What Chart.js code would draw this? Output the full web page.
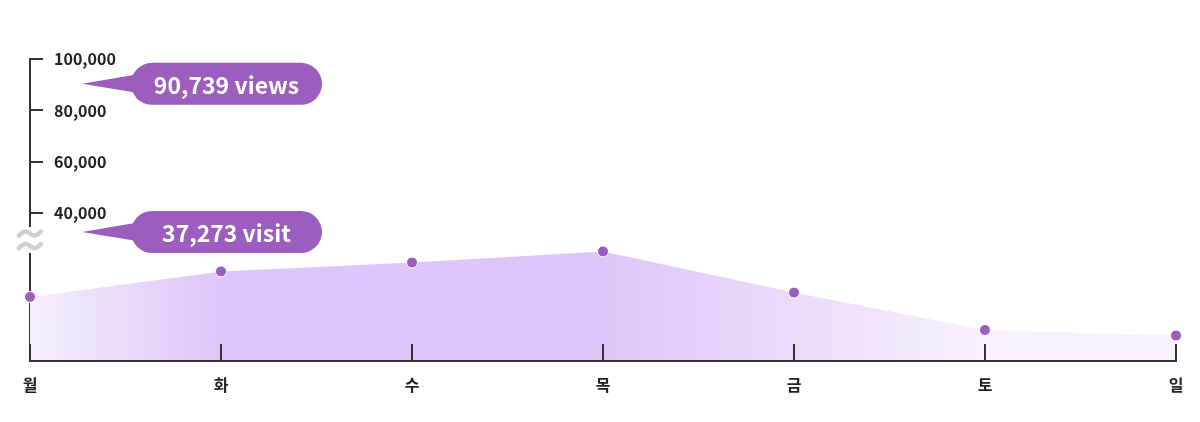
<!DOCTYPE html>
<html>
<head>
<meta charset="utf-8">
<script src="https://cdn.jsdelivr.net/npm/chart.js@4.4.1/dist/chart.umd.min.js"></script>
<style>
  html, body { margin: 0; padding: 0; background: #fff; }
  #wrap { width: 1200px; height: 422px; position: relative; }
</style>
</head>
<body>
<div id="wrap"><canvas id="c"></canvas></div>
<script>
// ---- data ----
const days = ['월', '화', '수', '목', '금', '토', '일'];
const visits = [5250, 7340, 8070, 8980, 5610, 2540, 2090];
const upperTicks = [40000, 60000, 80000, 100000];
const viewsTotal = 90739;
const visitTotal = 37273;

const FONT = "'Noto Sans CJK KR', 'Noto Sans', sans-serif";
const PURPLE = '#9b5dbe';
const AXIS = '#333333';

function fillGradient(context) {
  const chart = context.chart;
  const area = chart.chartArea;
  if (!area) return '#dfc6fa';
  const g = chart.ctx.createLinearGradient(area.left, 0, area.right, 0);
  g.addColorStop(0, '#f4eefd');
  g.addColorStop(1 / 6, '#dfc6fa');
  g.addColorStop(3 / 6, '#dfc6fa');
  g.addColorStop(5 / 6, '#f6f1fc');
  g.addColorStop(1, '#f6f1fc');
  return g;
}

function bubble(ctx, tipX, y, rectX, rectW, text) {
  const h = 42, r = 21;
  ctx.save();
  ctx.fillStyle = PURPLE;
  ctx.beginPath();
  ctx.moveTo(tipX, y);
  ctx.lineTo(rectX + 10, y - 10);
  ctx.lineTo(rectX + 12, y + 10);
  ctx.closePath();
  ctx.fill();
  ctx.beginPath();
  ctx.roundRect(rectX, y - h / 2, rectW, h, r);
  ctx.fill();
  ctx.fillStyle = '#ffffff';
  ctx.font = "bold 23px " + FONT;
  ctx.textAlign = 'center';
  ctx.textBaseline = 'middle';
  ctx.fillText(text, rectX + rectW / 2, y + 1);
  ctx.restore();
}

const overlay = {
  id: 'overlay',
  afterDraw(chart) {
    const ctx = chart.ctx;
    const top = chart.scales.yTop;
    const left = chart.chartArea.left;
    // axis break mark
    const by = top.bottom;
    ctx.save();
    ctx.fillStyle = '#ffffff';
    ctx.fillRect(left - 13, by - 12, 26, 26);
    ctx.strokeStyle = '#d0d0d0';
    ctx.lineWidth = 4.5;
    ctx.lineCap = 'round';
    [by - 5.5, by + 7].forEach(c => {
      ctx.beginPath();
      ctx.moveTo(left - 11, c + 2);
      ctx.quadraticCurveTo(left - 5, c - 5, left, c);
      ctx.quadraticCurveTo(left + 5, c + 5, left + 11, c - 2);
      ctx.stroke();
    });
    ctx.restore();
    // callouts
    const vy = top.getPixelForValue(viewsTotal);
    bubble(ctx, left + 52, vy + 1, left + 101, 191, viewsTotal.toLocaleString('en-US') + ' views');
    bubble(ctx, left + 52, by - 7, left + 101, 191, visitTotal.toLocaleString('en-US') + ' visit');
  }
};

new Chart(document.getElementById('c'), {
  type: 'line',
  data: {
    labels: days,
    datasets: [{
      data: visits,
      yAxisID: 'y',
      fill: 'origin',
      backgroundColor: fillGradient,
      borderWidth: 0,
      borderColor: 'rgba(0,0,0,0)',
      tension: 0,
      clip: false,
      pointRadius: 5.5,
      pointHoverRadius: 5.5,
      pointBackgroundColor: PURPLE,
      pointBorderColor: '#ffffff',
      pointBorderWidth: 1
    }]
  },
  options: {
    responsive: true,
    maintainAspectRatio: false,
    animation: false,
    events: [],
    layout: { padding: { left: 30, right: 24, top: 59, bottom: 0 } },
    plugins: { legend: { display: false }, tooltip: { enabled: false } },
    scales: {
      x: {
        type: 'category',
        offset: false,
        border: { display: true, color: AXIS, width: 2, z: 1 },
        grid: { drawOnChartArea: false, drawTicks: true, tickLength: -17, color: AXIS, lineWidth: 2, z: 1 },
        ticks: {
          padding: 31,
          color: '#222222',
          font: { family: FONT, size: 16, weight: 'bold' },
          maxRotation: 0,
          autoSkip: false
        },
        afterFit(scale) {
          scale.paddingLeft = 0;
          scale.paddingRight = 0;
          scale.height = 61;
        }
      },
      y: {
        type: 'linear',
        position: 'left',
        stack: 'yy',
        stackWeight: 122,
        min: 0,
        max: 10000,
        border: { display: true, color: AXIS, width: 2 },
        grid: { display: true, drawOnChartArea: false, drawTicks: false },
        ticks: { display: false },
        afterFit(scale) { scale.width = 0; scale.paddingTop = 0; scale.paddingBottom = 0; }
      },
      yTop: {
        type: 'linear',
        position: 'left',
        stack: 'yy',
        stackWeight: 180,
        min: 30000,
        max: 100000,
        border: { display: true, color: AXIS, width: 2 },
        grid: { drawOnChartArea: false, drawTicks: true, tickLength: -13, color: AXIS, lineWidth: 2 },
        ticks: {
          mirror: true,
          padding: 24,
          color: '#222222',
          font: { family: FONT, size: 16, weight: 'bold' },
          callback: v => Number(v).toLocaleString('en-US')
        },
        afterBuildTicks(scale) { scale.ticks = upperTicks.map(v => ({ value: v })); },
        afterFit(scale) { scale.width = 0; scale.paddingTop = 0; scale.paddingBottom = 0; }
      }
    }
  },
  plugins: [overlay]
});
</script>
</body>
</html>
